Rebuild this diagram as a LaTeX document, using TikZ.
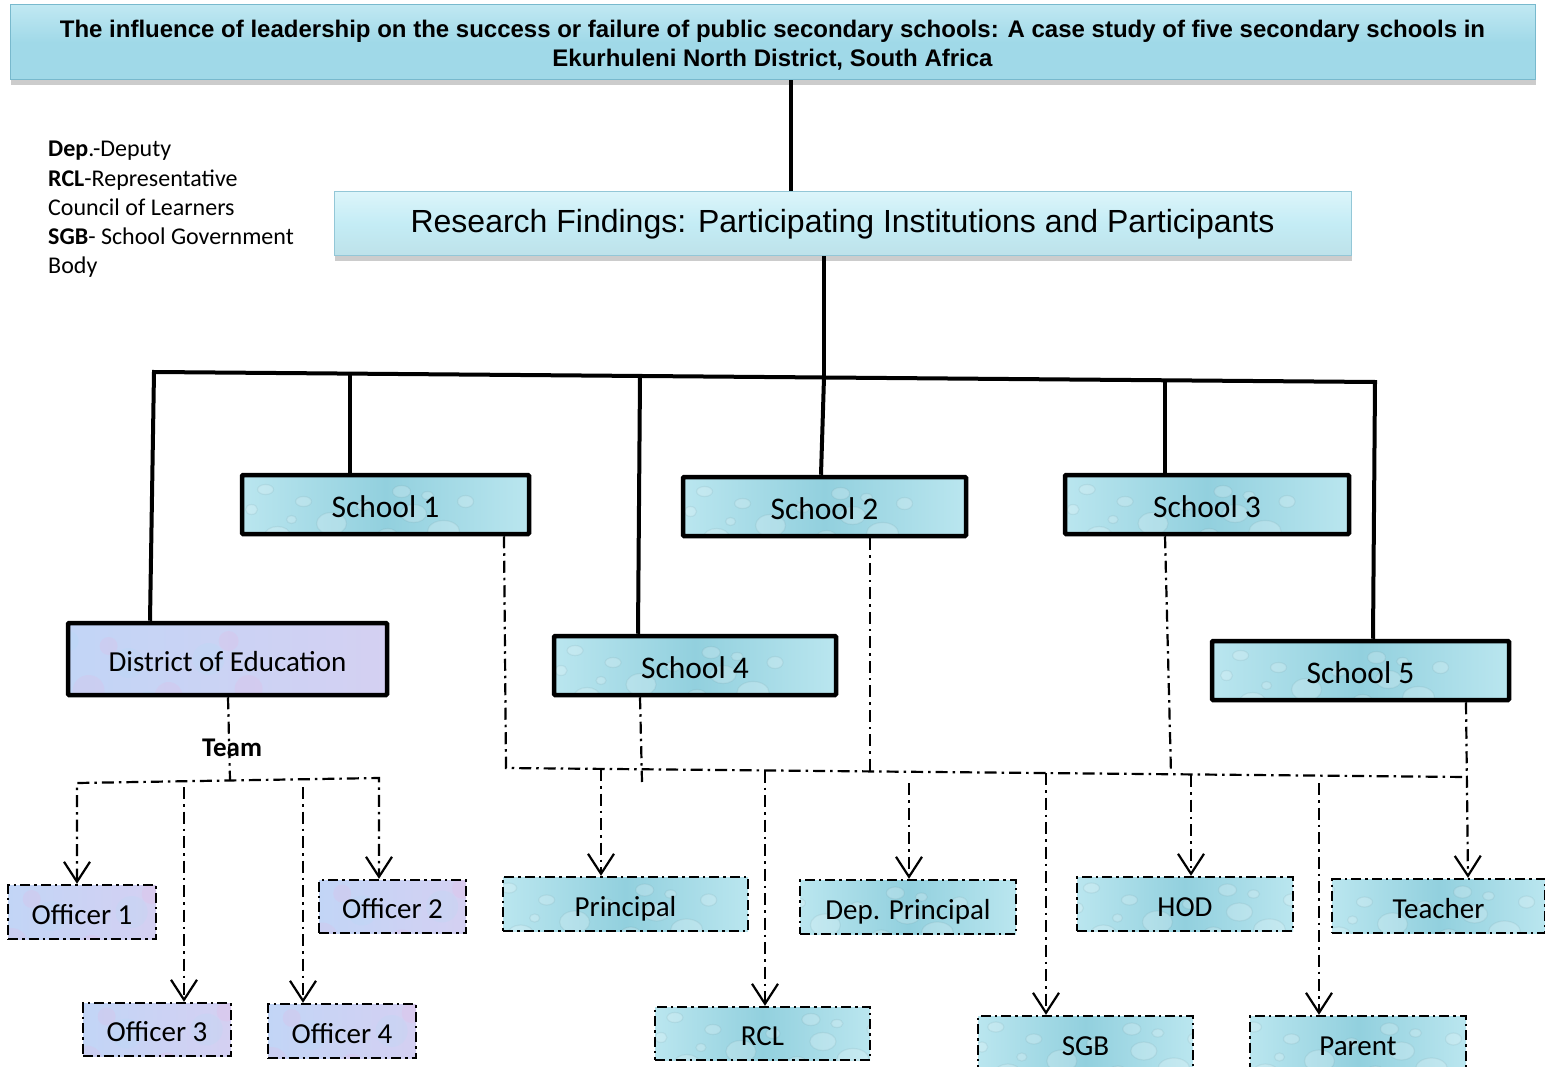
\documentclass[tikz,border=0pt]{standalone}
\usepackage{fontspec}
\setmainfont{Carlito}
\newfontfamily\arialfont{Liberation Sans}
\usetikzlibrary{arrows.meta,shadows}

\definecolor{titleblue}{RGB}{160,217,232}
\definecolor{titlelight}{RGB}{192,232,242}
\definecolor{titleedge}{RGB}{120,185,205}
\definecolor{findblue}{RGB}{196,236,245}
\definecolor{findlight}{RGB}{220,245,250}
\definecolor{aquaA}{RGB}{186,230,239}
\definecolor{aquaB}{RGB}{146,208,222}
\definecolor{lavA}{RGB}{194,213,246}
\definecolor{lavB}{RGB}{212,208,242}

% water-drop texture for the school and participant boxes
\newcommand\waterdrops{%
  \begin{scope}[x=1pt, y=1pt, shift={(path picture bounding box.center)}]
    \foreach \dx/\dy/\rx/\ry in {-132/14/9/6, -106/-12/11/8, -80/8/6/5, -54/-18/13/9,
        -28/16/8/5, 0/-6/15/11, 32/12/7/5, 56/-18/10/7, 82/4/13/9,
        112/-14/16/11, 134/16/8/6, -114/-32/9/5, -18/-30/8/5, 150/-28/10/7,
        96/22/6/4, 16/-28/6/4, -142/-14/6/5, -40/-2/5/4, 70/26/9/6, -66/28/8/5}{
      \fill[white, opacity=0.2] (\dx,\dy) ellipse [x radius=\rx, y radius=\ry];
      \draw[solid, line width=1.2pt, aquaB!60!black, opacity=0.1]
        (\dx,\dy) ellipse [x radius=\rx, y radius=\ry];
    }
  \end{scope}}

% mottled texture for the district and officer boxes
\newcommand\mottle{%
  \begin{scope}[x=1pt, y=1pt, shift={(path picture bounding box.center)}]
    \foreach \dx/\dy/\r/\c in {-140/10/14/cyan, -100/-15/18/magenta, -60/15/12/cyan,
        -20/-20/16/magenta, 20/8/15/cyan, 60/-25/14/magenta, 100/12/16/cyan,
        140/-18/14/magenta, -120/-35/10/cyan, -40/30/10/cyan, 40/-32/12/cyan,
        120/30/10/magenta, 0/25/9/magenta, -75/30/8/cyan}{
      \fill[\c!35!white, opacity=0.14] (\dx,\dy) circle [radius=\r];
    }
  \end{scope}}

\begin{document}
\begin{tikzpicture}[x=1pt, y=-1pt,
  titlebox/.style={draw=titleedge, line width=1pt, top color=titlelight,
    bottom color=titleblue, middle color=titleblue,
    drop shadow={shadow xshift=1pt, shadow yshift=-5pt, opacity=0.4},
    inner sep=0},
  findbox/.style={draw=titleedge!80, line width=1pt, top color=findlight,
    bottom color=findblue!90!gray, middle color=findblue,
    drop shadow={shadow xshift=1pt, shadow yshift=-5pt, opacity=0.4},
    inner sep=0},
  schoolbox/.style={draw=black, line width=4.5pt, rounded corners=1pt,
    left color=aquaA, right color=aquaA, middle color=aquaB,
    path picture={\waterdrops}, inner sep=0,
    text height=26pt, text depth=0pt,
    font=\fontsize{31.5}{36}\selectfont},
  districtbox/.style={draw=black, line width=4.5pt, rounded corners=1pt,
    left color=lavA, right color=lavB, path picture={\mottle}, inner sep=0,
    text height=24pt, text depth=0pt,
    font=\fontsize{29}{34}\selectfont},
  rolebox/.style={draw=black, line width=2.4pt,
    dash pattern=on 10pt off 4pt on 2.5pt off 4pt,
    left color=aquaA, right color=aquaA, middle color=aquaB,
    path picture={\waterdrops}, inner sep=0,
    text height=24pt, text depth=0pt,
    font=\fontsize{29}{34}\selectfont},
  officerbox/.style={draw=black, line width=2.4pt,
    dash pattern=on 10pt off 4pt on 2.5pt off 4pt,
    left color=lavA, right color=lavB, path picture={\mottle}, inner sep=0,
    text height=24pt, text depth=0pt,
    font=\fontsize{29}{34}\selectfont},
  trunk/.style={line width=4pt, line join=miter},
  dd/.style={line width=2.2pt, dash pattern=on 12pt off 5pt on 2.5pt off 5pt},
  barb/.tip={Straight Barb[length=20pt, width=26pt, line width=2.2pt]},
  feed/.style={dd, -barb}
]
\useasboundingbox (0,0) rectangle (1545,1067);

% ---------- headings ----------
\node[titlebox, minimum width=1525pt, minimum height=75pt] (title) at (772.5,42.5) {};
\node[align=center, inner sep=0,
      font=\arialfont\bfseries\fontsize{24}{29}\selectfont] (titletext) at (772.5,45)
  {The influence of leadership on the success or failure of public secondary schools: A case study of five secondary schools in\\
   Ekurhuleni North District, South Africa};

\node[findbox, minimum width=1017pt, minimum height=64pt,
      font=\arialfont\fontsize{32}{38}\selectfont] (find) at (842.5,224)
  {Research Findings: Participating Institutions and Participants};

% ---------- abbreviations ----------
\node[anchor=north west, align=left, inner sep=0,
      font=\fontsize{24}{29.3}\selectfont] (legend) at (48,141)
  {\textbf{Dep}.-Deputy\\
   \textbf{RCL}-Representative\\
   Council of Learners\\
   \textbf{SGB}- School Government\\
   Body};

% ---------- institutions ----------
\node[schoolbox, minimum width=287pt, minimum height=59pt] (s1) at (385.5,504.5) {School 1};
\node[schoolbox, minimum width=283pt, minimum height=59pt] (s2) at (824.5,506.5) {School 2};
\node[schoolbox, minimum width=284pt, minimum height=59pt] (s3) at (1207,504.5) {School 3};
\node[schoolbox, minimum width=282pt, minimum height=59pt] (s4) at (695,665.5) {School 4};
\node[schoolbox, minimum width=297pt, minimum height=59pt] (s5) at (1360.5,670.5) {School 5};
\node[districtbox, minimum width=319pt, minimum height=72pt] (district) at (227.5,659) {District of Education};

% ---------- district team ----------
\node[officerbox, minimum width=148pt, minimum height=54pt] (o1) at (82,912) {Officer 1};
\node[officerbox, minimum width=147pt, minimum height=53pt] (o2) at (392.5,906.5) {Officer 2};
\node[officerbox, minimum width=148pt, minimum height=53pt] (o3) at (157,1029.5) {Officer 3};
\node[officerbox, minimum width=148pt, minimum height=54pt] (o4) at (342,1031) {Officer 4};

% ---------- school participants ----------
\node[rolebox, minimum width=245pt, minimum height=54pt] (principal) at (625.5,904) {Principal};
\node[rolebox, minimum width=216pt, minimum height=54pt] (dep) at (908,907) {Dep. Principal};
\node[rolebox, minimum width=216pt, minimum height=54pt] (hod) at (1185,904) {HOD};
\node[rolebox, minimum width=213pt, minimum height=54pt] (teacher) at (1438.5,906) {Teacher};
\node[rolebox, minimum width=215pt, minimum height=53pt] (rcl) at (762.5,1033.5) {RCL};
\node[rolebox, minimum width=215pt, minimum height=54pt] (sgb) at (1085.5,1043) {SGB};
\node[rolebox, minimum width=216pt, minimum height=54pt] (parent) at (1358,1043) {Parent};

% ---------- solid hierarchy ----------
\coordinate (barL) at (154,372);
\coordinate (barR) at (1375,382);
\coordinate (j1) at (350,373.6);
\coordinate (j4) at (640,376);
\coordinate (j2) at (824,377.5);
\coordinate (j3) at (1165,380.3);

\draw[trunk] (title.south -| 791,0) -- (find.north -| 791,0);
\draw[trunk] (find.south -| 824,0) -- (j2);
\draw[trunk] (district.north -| 150,0) -- (barL) -- (barR) -- (s5.north -| 1373,0);
\draw[trunk] (j1) -- (s1.north -| 350,0);
\draw[trunk] (j4) -- (s4.north -| 638,0);
\draw[trunk] (j2) -- (s2.north -| 821,0);
\draw[trunk] (j3) -- (s3.north -| 1165,0);

% ---------- district team links ----------
\coordinate (tj) at (230,780);
\draw[dd] (district.south -| 228,0) -- (tj);
\node[font=\bfseries\fontsize{27}{32}\selectfont, inner sep=0] (team) at (232,748) {Team};
\draw[dd, barb-barb] (o1.north -| 77,0) -- (77,783) -- (379,778) -- (o2.north -| 379,0);
\draw[feed] (184,787) -- (o3.north -| 184,0);
\draw[feed] (303,787) -- (o4.north -| 303,0);

% ---------- school participant links ----------
\coordinate (pL) at (506,768);
\coordinate (pR) at (1466,777);
\draw[dd] (s1.south -| 504,0) -- (pL) -- (pR);
\draw[dd] (s4.south -| 640,0) -- (642,782);
\draw[dd] (s2.south -| 870,0) -- (870,771.4);
\draw[dd] (s3.south -| 1165,0) -- (1171,773.5);
\draw[feed] (s5.south -| 1466,0) -- (teacher.north -| 1468,0);
\draw[feed] (601,769) -- (principal.north -| 601,0);
\draw[feed] (765,770.5) -- (rcl.north -| 765,0);
\draw[feed] (909,783) -- (dep.north -| 909,0);
\draw[feed] (1046,773) -- (sgb.north -| 1046,0);
\draw[feed] (1191,775) -- (hod.north -| 1191,0);
\draw[feed] (1319,783) -- (parent.north -| 1319,0);
\end{tikzpicture}
\end{document}
